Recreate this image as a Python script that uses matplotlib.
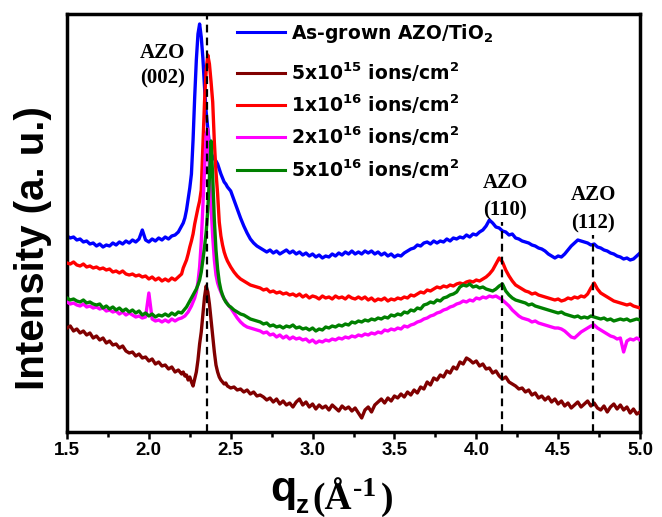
import numpy as np
import matplotlib
matplotlib.use('Agg')
import matplotlib.pyplot as plt
from matplotlib import font_manager
from matplotlib.ticker import MultipleLocator, FormatStrFormatter

names = {f.name for f in font_manager.fontManager.ttflist}
NARROW = 'Liberation Sans Narrow' if 'Liberation Sans Narrow' in names else 'Liberation Sans'
plt.rcParams['mathtext.fontset'] = 'dejavusans'

# ---------------- data ----------------
q = np.round(np.concatenate([np.arange(1.50, 2.201, 0.02),
                             np.arange(2.21, 2.491, 0.01),
                             np.arange(2.50, 5.001, 0.02)]), 2)

as_grown = [196,194,195,192,193,190,191,188,189,186,
            188,185,187,186,189,187,190,188,191,189,
            192,190,193,202,192,190,193,191,194,192,
            195,193,196,197,200,206,
            209,214,222,233,244,258,292,335,372,398,
            408,395,374,345,320,303,287,279,275,273,
            271,268,263,258,254,250,248,245,243,
            241,232,223,214,206,199,193,189,186,184,
            182,180,182,179,181,178,180,182,179,181,
            178,180,177,179,176,178,175,177,174,176,
            175,178,176,179,177,180,178,181,178,180,
            178,181,179,181,178,180,177,179,176,178,
            175,177,176,179,181,183,184,187,186,189,
            190,188,191,189,191,190,193,191,194,193,
            195,194,197,195,198,197,200,202,206,212,
            209,205,204,201,200,197,198,194,193,191,
            190,189,187,186,184,183,181,178,176,174,
            176,175,178,182,186,189,192,191,190,189,
            187,188,185,184,182,181,179,178,176,175,
            173,174,172,173,176,179]

dose_5e15 = [104,106,101,103,99,101,97,99,94,96,
             92,94,89,91,87,88,84,86,81,79,
             80,76,78,74,75,71,73,68,70,66,
             67,63,65,60,62,58,
             60,56,57,52,55,50,46,53,60,72,
             88,100,118,135,146,140,128,112,95,80,
             67,60,55,52,50,48,49,46,45,
             44,45,42,43,40,42,38,40,36,37,
             35,32,34,30,33,28,31,27,29,25,
             30,33,27,30,25,28,23,27,24,26,
             22,27,24,21,26,23,25,21,24,19,
             14,22,25,20,27,30,33,29,34,31,
             36,34,38,35,40,37,42,39,45,43,
             50,47,54,52,57,55,61,59,65,63,
             70,68,74,72,69,71,66,68,63,64,
             59,61,56,53,55,50,48,46,43,44,
             40,42,37,39,34,36,32,35,30,33,
             28,31,26,29,24,27,30,25,28,31,
             26,29,24,22,26,20,25,28,23,27,
             22,25,19,23,18,20]

dose_1e16 = [169,168,170,167,166,168,165,166,164,165,
             163,164,162,163,160,161,159,161,158,157,
             158,156,157,155,156,153,155,152,154,151,
             153,151,154,152,155,158,
             164,168,172,178,185,191,198,208,216,224,
             231,242,285,330,362,377,368,350,330,290,
             260,238,210,196,187,180,175,171,168,
             165,160,156,153,151,149,147,146,145,144,
             142,143,140,141,139,140,138,139,137,138,
             136,138,135,137,134,136,135,133,136,134,
             135,133,136,134,135,133,136,134,133,135,
             133,135,132,134,131,133,132,134,131,133,
             132,134,133,135,134,137,136,138,140,139,
             142,141,143,145,144,146,145,147,146,148,
             149,148,150,151,150,152,151,153,155,158,
             162,168,174,170,162,156,151,147,145,143,
             141,140,138,139,137,136,135,134,133,132,
             133,131,132,134,133,135,134,136,135,138,
             144,149,143,139,137,135,133,131,130,129,
             128,127,128,126,125,124]

dose_2e16 = [130,128,129,127,126,128,125,126,124,125,
             123,124,121,122,120,121,118,120,117,119,
             117,115,116,114,115,139,113,111,112,110,
             112,110,113,111,113,114,
             115,116,118,120,123,126,130,134,140,150,
             165,190,225,262,298,303,262,225,195,172,
             157,149,144,140,136,133,131,128,126,
             124,119,114,110,107,105,104,103,102,101,
             99,100,97,98,95,97,94,96,93,95,
             93,94,92,93,90,92,89,91,90,92,
             91,93,92,94,93,95,94,96,95,97,
             96,98,97,99,98,100,99,102,101,103,
             102,104,103,106,105,107,108,110,111,113,
             114,116,117,119,120,122,123,125,126,128,
             129,131,130,132,131,134,133,135,134,136,
             135,136,134,132,129,126,122,119,116,114,
             113,112,110,111,109,108,107,106,105,104,
             104,103,101,98,95,94,97,100,102,104,
             106,107,104,102,100,98,96,95,93,94,
             80,91,93,92,94,92]

dose_5e16 = [134,132,133,131,130,132,129,130,128,127,
             128,124,126,123,125,122,124,121,123,120,
             122,119,121,117,119,116,118,115,117,116,
             118,116,119,117,120,119,
             121,123,125,128,131,134,137,140,143,147,
             152,160,172,185,200,222,255,291,255,212,
             182,163,150,142,137,133,130,128,126,
             125,122,120,118,117,115,113,112,111,110,
             108,109,106,107,105,106,104,106,105,107,
             104,105,103,104,102,104,101,103,102,105,
             104,106,105,107,106,108,107,110,109,111,
             110,112,111,113,112,114,113,115,114,117,
             116,118,117,120,119,122,121,124,123,127,
             128,130,129,132,131,134,135,137,138,140,
             145,147,146,148,145,146,144,145,143,142,
             141,143,146,148,141,137,134,132,131,130,
             129,127,128,126,125,124,123,122,121,120,
             119,120,118,117,116,115,116,114,115,114,
             116,115,114,113,114,112,113,111,112,113,
             112,113,111,112,113,112]

labels = ['As-grown AZO/TiO$_\\mathbf{2}$',
          '5x10$^{\\mathbf{15}}$ ions/cm$^{\\mathbf{2}}$',
          '1x10$^{\\mathbf{16}}$ ions/cm$^{\\mathbf{2}}$',
          '2x10$^{\\mathbf{16}}$ ions/cm$^{\\mathbf{2}}$',
          '5x10$^{\\mathbf{16}}$ ions/cm$^{\\mathbf{2}}$']
series = [as_grown, dose_5e15, dose_1e16, dose_2e16, dose_5e16]
colors = ['#0000FF', '#800000', '#FF0000', '#FF00FF', '#008000']
draw_order = [0, 2, 3, 4, 1]

ref_q = [2.355, 4.16, 4.715]
ref_top = [418, 210, 197]
ann_q = [2.086, 4.176, 4.713]
ann_hkl = ['(002)', '(110)', '(112)']
ann_base = [374, 244, 232]      # baseline of "AZO"
ann_base2 = [349, 217, 204]     # baseline of "(hkl)"

# ---------------- figure ----------------
W, H = 662, 517
fig = plt.figure(figsize=(W / 100, H / 100), dpi=100)
ax = fig.add_axes([67 / W, 85 / H, 573 / W, 418 / H])

for i in draw_order:
    ax.plot(q, series[i], color=colors[i], lw=2.4, zorder=2 + draw_order.index(i))

for xq, top in zip(ref_q, ref_top):
    ax.plot([xq, xq], [0, top], color='black', lw=1.6, ls=(0, (3.5, 2.3)), zorder=10)

for xq, hkl, b1, b2 in zip(ann_q, ann_hkl, ann_base, ann_base2):
    ax.text(xq, b1, 'AZO', ha='center', va='baseline', fontsize=15,
            family='Liberation Serif', weight='bold', zorder=11)
    ax.text(xq, b2, hkl, ha='center', va='baseline', fontsize=15,
            family='Liberation Serif', weight='bold', zorder=11)

# legend (manual, to follow the reference's row spacing)
leg_rows_px = [32, 73, 105, 137, 170]
for i, py in enumerate(leg_rows_px):
    yf = (432 - py) / 418
    ax.plot([(237 - 67) / 573, (285 - 67) / 573], [yf, yf], transform=ax.transAxes,
            color=colors[i], lw=2.2, zorder=12)
    ax.text((291 - 67) / 573, yf - 7 / 418, labels[i], transform=ax.transAxes,
            ha='left', va='baseline', fontsize=13.5, family='DejaVu Sans',
            weight='bold', zorder=12)

ax.set_xlim(1.5, 5.0)
ax.set_ylim(0, 418)
ax.set_yticks([])
ax.xaxis.set_major_locator(MultipleLocator(0.5))
ax.xaxis.set_minor_locator(MultipleLocator(0.25))
ax.xaxis.set_major_formatter(FormatStrFormatter('%.1f'))
ax.tick_params(axis='x', which='both', direction='out', top=False, width=1.8)
ax.tick_params(axis='x', which='major', length=5, pad=2)
ax.tick_params(axis='x', which='minor', length=3.5)
for lab in ax.get_xticklabels():
    lab.set_fontfamily(NARROW)
    lab.set_fontweight('bold')
    lab.set_fontsize(16 if NARROW != 'Liberation Sans' else 13.5)
for s in ax.spines.values():
    s.set_linewidth(2.5)

# axis titles
fig.text(33 / W, (H - 248) / H, 'Intensity (a. u.)', rotation=90, ha='center', va='center',
         fontsize=29, weight='bold', family='Liberation Sans')
fig.text(270 / W, (H - 501) / H, 'q', ha='left', va='baseline', fontsize=31,
         weight='bold', family='Liberation Sans')
fig.text(296 / W, (H - 513) / H, 'z', ha='left', va='baseline', fontsize=19,
         weight='bold', family='Liberation Sans')
fig.text(312 / W, (H - 509) / H, '(Å', ha='left', va='baseline', fontsize=27,
         weight='bold', family='Liberation Serif')
fig.text(353 / W, (H - 496) / H, '-1', ha='left', va='baseline', fontsize=20,
         weight='bold', family='Liberation Serif')
fig.text(381 / W, (H - 509) / H, ')', ha='left', va='baseline', fontsize=27,
         weight='bold', family='Liberation Serif')

fig.savefig('out.png', dpi=100)
